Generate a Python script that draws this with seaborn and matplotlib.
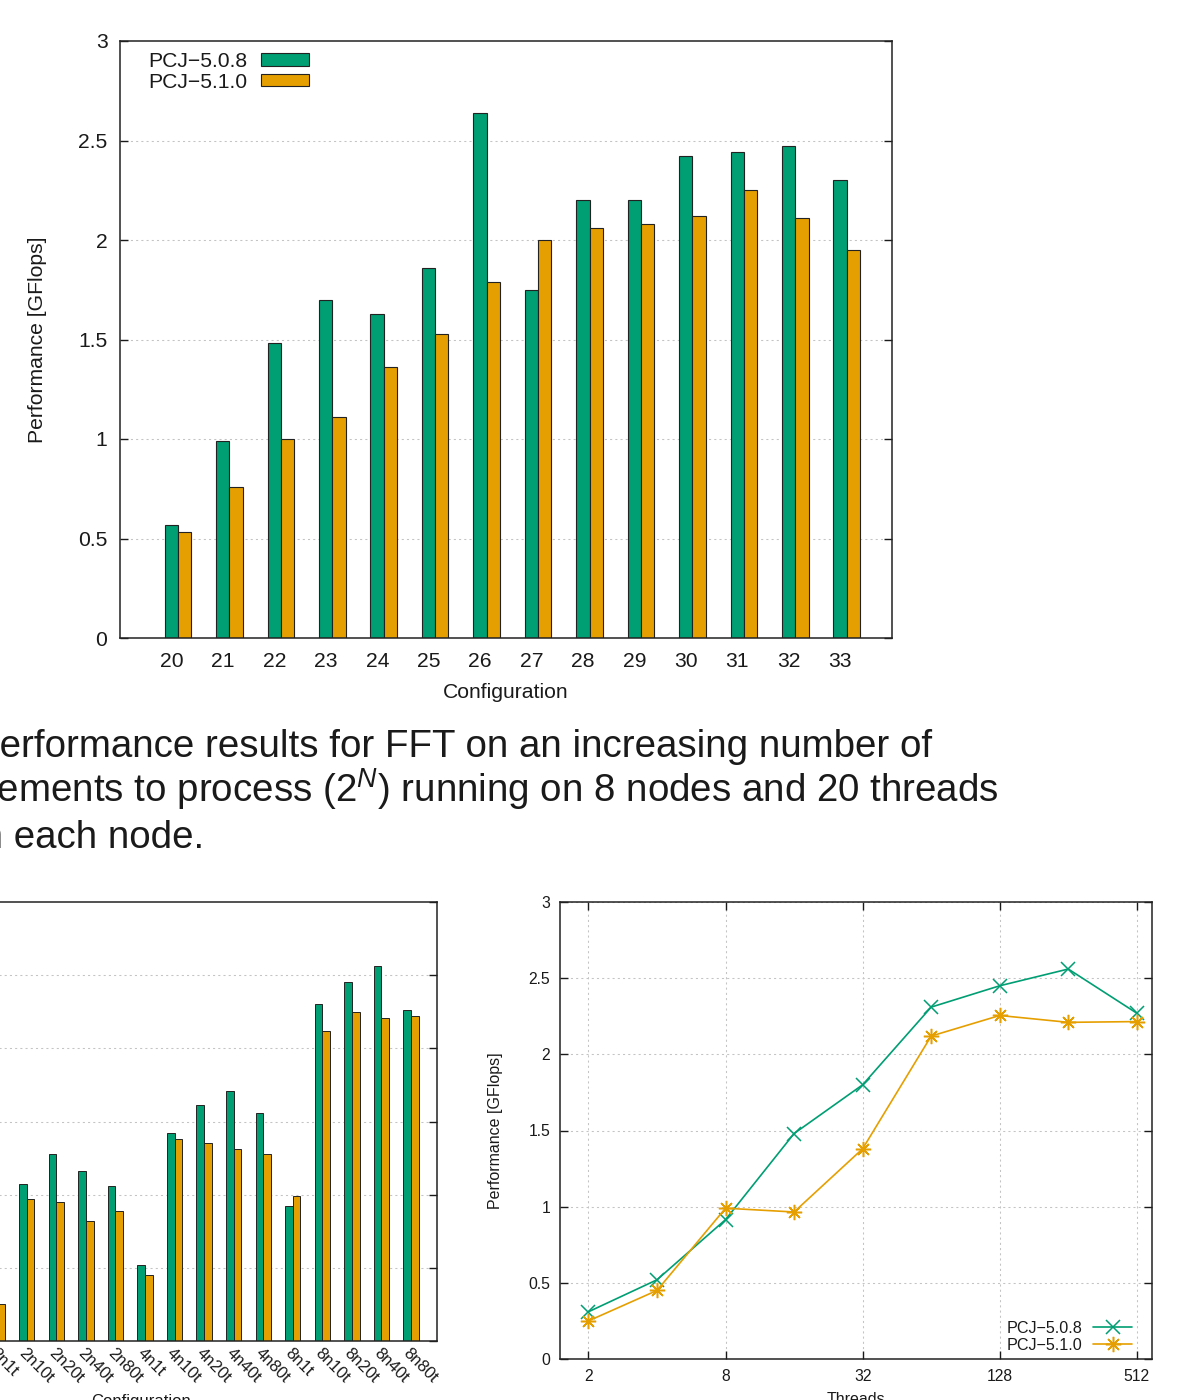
import numpy as np
import pandas as pd
import matplotlib
matplotlib.use("Agg")
import matplotlib.pyplot as plt
from matplotlib.patches import Patch
from matplotlib.lines import Line2D
import seaborn as sns

# ---------------- data ----------------
series_names = ["PCJ\u22125.0.8", "PCJ\u22125.1.0"]
colors = ["#009E73", "#E69F00"]

top_configs = ["20", "21", "22", "23", "24", "25", "26", "27", "28", "29", "30", "31", "32", "33"]
top_508 = [0.57, 0.99, 1.48, 1.70, 1.63, 1.86, 2.64, 1.75, 2.20, 2.20, 2.42, 2.44, 2.47, 2.30]
top_510 = [0.535, 0.76, 1.00, 1.11, 1.36, 1.53, 1.79, 2.00, 2.06, 2.08, 2.12, 2.25, 2.11, 1.95]

bl_configs = ["2n1t", "2n10t", "2n20t", "2n40t", "2n80t", "4n1t", "4n10t", "4n20t",
              "4n40t", "4n80t", "8n1t", "8n10t", "8n20t", "8n40t", "8n80t"]
bl_508 = [0.31, 1.07, 1.28, 1.16, 1.06, 0.52, 1.42, 1.61, 1.71, 1.56, 0.92, 2.30, 2.45, 2.56, 2.26]
bl_510 = [0.25, 0.97, 0.95, 0.82, 0.89, 0.45, 1.38, 1.35, 1.31, 1.28, 0.99, 2.12, 2.25, 2.21, 2.22]

threads = [2, 4, 8, 16, 32, 64, 128, 256, 512]
ln_508 = [0.31, 0.52, 0.915, 1.48, 1.80, 2.31, 2.45, 2.56, 2.27]
ln_510 = [0.25, 0.45, 0.99, 0.965, 1.38, 2.12, 2.255, 2.21, 2.215]

y_ticks = [0, 0.5, 1, 1.5, 2, 2.5, 3]
y_ticklabels = ["0", "0.5", "1", "1.5", "2", "2.5", "3"]
thread_ticks = [2, 8, 32, 128, 512]

caption_lines = [
    "Performance results for FFT on an increasing number of",
    "elements to process (2$^{N}$) running on 8 nodes and 20 threads",
    "in each node.",
]

# ---------------- style ----------------
sns.set_theme(style="white")
plt.rcParams["font.family"] = ["Liberation Sans", "DejaVu Sans"]
plt.rcParams["mathtext.fontset"] = "custom"
plt.rcParams["mathtext.rm"] = "Liberation Sans"
plt.rcParams["mathtext.it"] = "Liberation Sans:italic"
TXT = "#1a1a1a"
plt.rcParams["text.color"] = TXT
plt.rcParams["axes.labelcolor"] = TXT
plt.rcParams["xtick.color"] = TXT
plt.rcParams["ytick.color"] = TXT

W, H = 1186, 1400
fig = plt.figure(figsize=(W / 100, H / 100), dpi=100)
fig.patch.set_facecolor("white")


def rect(l, t, r, b):
    return [l / W, 1 - b / H, (r - l) / W, (b - t) / H]


GRID = dict(color="#c4c4c4", linestyle=(0, (2, 3)), linewidth=0.75)


def frame(ax, fs, ylen=6):
    for s in ax.spines.values():
        s.set_visible(True)
        s.set_color("#222222")
        s.set_linewidth(1.1)
    ax.set_ylim(0, 3)
    ax.set_yticks(y_ticks)
    ax.set_yticklabels(y_ticklabels)
    ax.tick_params(axis="y", direction="in", left=True, right=True, length=ylen,
                   width=1.0, labelsize=fs, colors=TXT)
    ax.set_axisbelow(True)


def long_df(cats, a, b):
    return pd.DataFrame({
        "cat": list(cats) * 2,
        "val": list(a) + list(b),
        "ver": [series_names[0]] * len(cats) + [series_names[1]] * len(cats),
    })


# ---------------- top bar chart ----------------
L, T, R, B = 120, 41, 892, 638
ax1 = fig.add_axes(rect(L, T, R, B))
sns.barplot(data=long_df(top_configs, top_508, top_510), x="cat", y="val", hue="ver",
            order=top_configs, hue_order=series_names, palette=colors, width=0.517,
            edgecolor="#222222", linewidth=0.8, legend=False, ax=ax1, saturation=1)
frame(ax1, 15.2)
ax1.set_xlim(-1.127, len(top_configs) - 1 + 0.88)
ax1.set_xticks(np.arange(len(top_configs)) - 0.125)
ax1.set_xticklabels(top_configs)
ax1.tick_params(axis="x", length=0, labelsize=15.2, pad=10)
ax1.tick_params(axis="y", pad=9)
for yv in y_ticks[1:-1]:
    ax1.axhline(yv, zorder=0, **GRID)
ax1.set_xlabel("Configuration", fontsize=15.2)
ax1.set_ylabel("Performance [GFlops]", fontsize=15.2)
ax1.xaxis.set_label_coords(0.5, -(683 - B) / (B - T))
ax1.yaxis.set_label_coords((47 - L) / (R - L), 0.5)
h1 = [Patch(facecolor=c, edgecolor="#222222", linewidth=0.8) for c in colors]
ax1.legend(h1, series_names, loc="upper left", frameon=False, markerfirst=False,
           fontsize=15.2, handlelength=2.3, handleheight=0.5, handletextpad=0.65,
           labelspacing=0.08, borderpad=0, borderaxespad=0,
           bbox_to_anchor=((148 - L) / (R - L), 1 - (52 - T) / (B - T)))

# ---------------- bottom-left bar chart (cropped) ----------------
L2, T2, R2, B2 = -155, 902, 437, 1341
ax2 = fig.add_axes(rect(L2, T2, R2, B2))
sns.barplot(data=long_df(bl_configs, bl_508, bl_510), x="cat", y="val", hue="ver",
            order=bl_configs, hue_order=series_names, palette=colors, width=0.517,
            edgecolor="#222222", linewidth=0.7, legend=False, ax=ax2, saturation=1)
frame(ax2, 12)
ax2.set_xlim(-5.15, len(bl_configs) - 1 + 0.88)
for yv in y_ticks[1:-1]:
    ax2.axhline(yv, zorder=0, **GRID)
ax2.tick_params(axis="x", length=0, labelsize=12, pad=3)
plt.setp(ax2.get_xticklabels(), rotation=-45, ha="left", va="top", rotation_mode="anchor")
ax2.set_xlabel("Configuration", fontsize=12)
ax2.set_ylabel("")
ax2.xaxis.set_label_coords(0.5, -(1394 - B2) / (B2 - T2))

# ---------------- bottom-right line chart ----------------
L3, T3, R3, B3 = 560, 902, 1152, 1359
ax3 = fig.add_axes(rect(L3, T3, R3, B3))
sns.lineplot(x=threads, y=ln_508, ax=ax3, color=colors[0], marker="x", markersize=10,
             markeredgewidth=1.1, markeredgecolor=colors[0], linewidth=1.2)
sns.lineplot(x=threads, y=ln_510, ax=ax3, color=colors[1], marker=(8, 2, 0), markersize=11,
             markeredgewidth=1.1, markeredgecolor=colors[1], linewidth=1.2)
ax3.set_xscale("log", base=2)
ax3.set_xlim(1.5, 597)
frame(ax3, 11.3)
ax3.set_xticks(thread_ticks)
ax3.set_xticklabels([str(t) for t in thread_ticks])
ax3.minorticks_off()
ax3.tick_params(axis="x", which="both", direction="in", top=True, bottom=True, length=6,
                width=1.0, labelsize=11.3, pad=7.5)
ax3.tick_params(axis="y", pad=7)
ax3.grid(True, which="major", axis="both", **GRID)
ax3.set_xlabel("Threads", fontsize=11.5)
ax3.set_ylabel("Performance [GFlops]", fontsize=11.5)
ax3.xaxis.set_label_coords(0.5, -(1392 - B3) / (B3 - T3))
ax3.yaxis.set_label_coords((503 - L3) / (R3 - L3), 0.5)
h3 = [Line2D([], [], color=colors[0], marker="x", markersize=10, markeredgewidth=1.1, linewidth=1.2),
      Line2D([], [], color=colors[1], marker=(8, 2, 0), markersize=11, markeredgewidth=1.1, linewidth=1.2)]
ax3.legend(h3, series_names, loc="lower right", frameon=False, markerfirst=False,
           fontsize=11.6, handlelength=2.4, handletextpad=0.7, labelspacing=0.12,
           borderpad=0, borderaxespad=0,
           bbox_to_anchor=((1132 - L3) / (R3 - L3), (B3 - 1353) / (B3 - T3)))

# ---------------- caption (cropped at the left edge) ----------------
for line, base, x0 in zip(caption_lines, [757, 802, 848], [-26, -33, -27]):
    fig.text(x0 / W, 1 - base / H, line, fontsize=27.7, va="baseline", ha="left", color=TXT)

fig.savefig("out.png", dpi=100, facecolor="white")
